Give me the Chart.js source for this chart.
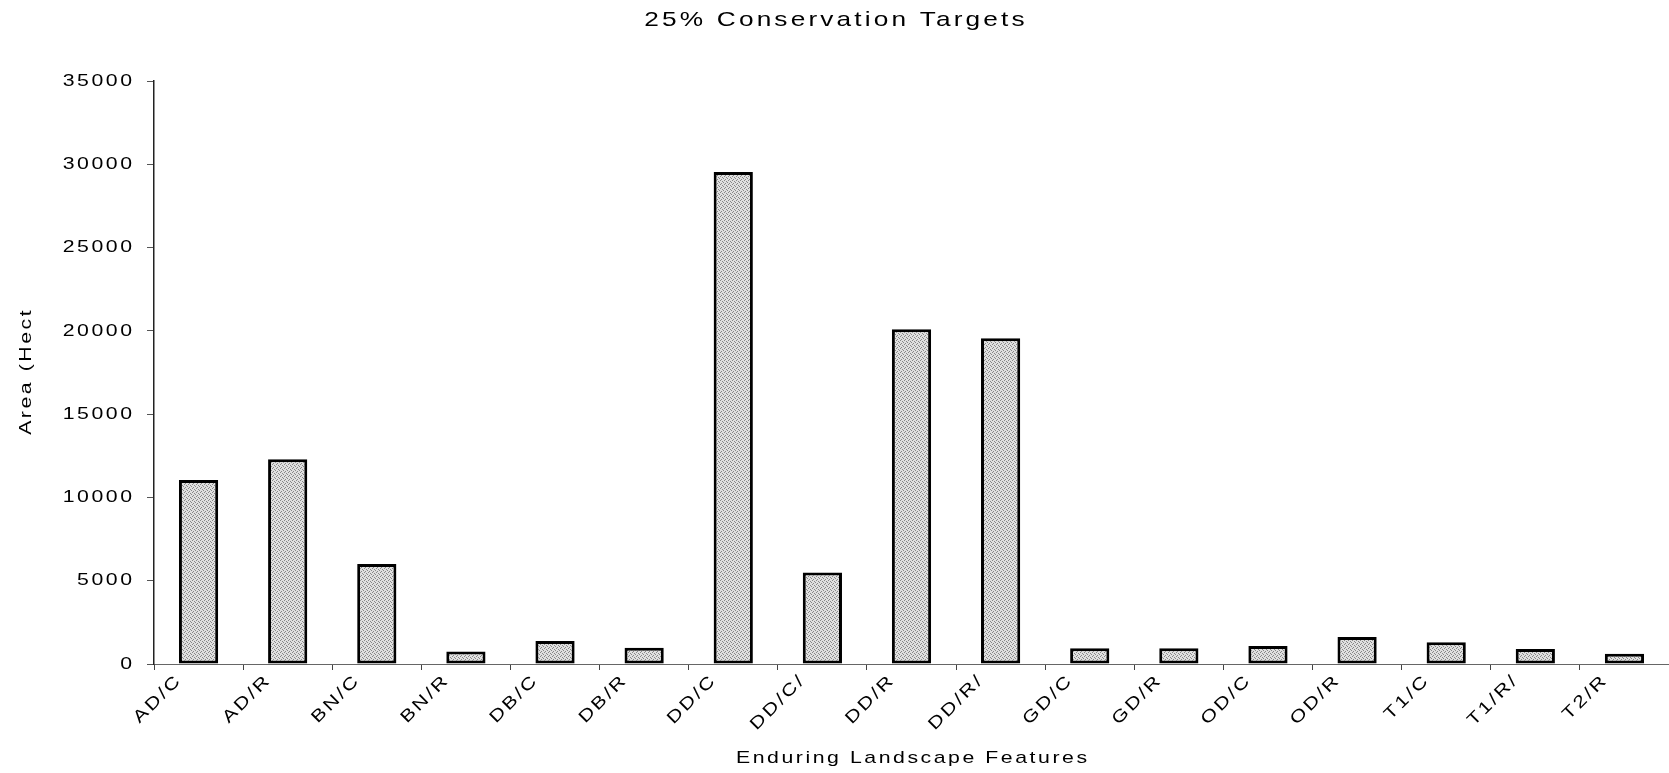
<!DOCTYPE html>
<html>
<head>
<meta charset="utf-8">
<script src="https://cdn.jsdelivr.net/npm/chart.js@4.4.1/dist/chart.umd.min.js"></script>
<style>
  html, body { margin: 0; padding: 0; background: #fff; }
  #wrap { width: 1669px; height: 773px; }
</style>
</head>
<body>
<div id="wrap"><canvas id="myChart" width="1669" height="773"></canvas></div>
<script>
// data
var features = ['AD/C', 'AD/R', 'BN/C', 'BN/R', 'DB/C', 'DB/R', 'DD/C', 'DD/C/', 'DD/R', 'DD/R/',
                'GD/C', 'GD/R', 'OD/C', 'OD/R', 'T1/C', 'T1/R/', 'T2/R'];
var areaHect = [11050, 12300, 6000, 750, 1380, 980, 29550, 5500, 20100, 19570,
                950, 950, 1080, 1620, 1300, 900, 620];
var yTicks = [0, 5000, 10000, 15000, 20000, 25000, 30000, 35000];

// stippled grey fill like the scanned original
var tile = document.createElement('canvas');
tile.width = 4; tile.height = 4;
var tc = tile.getContext('2d');
tc.fillStyle = '#e0e0e0';
tc.fillRect(0, 0, 4, 4);
tc.fillStyle = '#888';
[[0, 0], [2, 1], [1, 3], [3, 2]].forEach(function (p) { tc.fillRect(p[0], p[1], 1, 1); });
var stipple = tc.createPattern(tile, 'repeat');

// the original type is wide and letter-spaced: stretch it a bit
var SX = 1.25, SP = 0.12;
var wideText = {
  id: 'wideText',
  beforeInit: function (chart) {
    var ctx = chart.ctx;
    var fill = ctx.fillText, measure = ctx.measureText;
    function setSp() {
      var m = /(\d+(\.\d+)?)px/.exec(ctx.font);
      var size = m ? parseFloat(m[1]) : 12;
      var sp = size * SP;
      ctx.letterSpacing = sp.toFixed(2) + 'px';
      return sp;
    }
    ctx.fillText = function (text, x, y) {
      var sp = setSp();
      var shift = ctx.textAlign === 'right' || ctx.textAlign === 'end' ? sp
                : ctx.textAlign === 'center' ? sp / 2 : 0;
      ctx.save();
      ctx.translate(x, y);
      ctx.scale(SX, 1);
      fill.call(ctx, text, shift, 0);
      ctx.restore();
    };
    ctx.measureText = function (text) {
      setSp();
      var m = measure.call(ctx, text);
      return {
        width: m.width * SX,
        actualBoundingBoxAscent: m.actualBoundingBoxAscent,
        actualBoundingBoxDescent: m.actualBoundingBoxDescent,
        actualBoundingBoxLeft: m.actualBoundingBoxLeft * SX,
        actualBoundingBoxRight: m.actualBoundingBoxRight * SX
      };
    };
  }
};

Chart.defaults.font.family = "'Liberation Sans', Arial, sans-serif";
Chart.defaults.color = '#000';

var ctx = document.getElementById('myChart').getContext('2d');
var myChart = new Chart(ctx, {
  type: 'bar',
  data: {
    labels: features,
    datasets: [{
      data: areaHect,
      backgroundColor: stipple,
      borderColor: '#000',
      borderWidth: 3,
      borderSkipped: false,
      barPercentage: 0.44,
      categoryPercentage: 1
    }]
  },
  plugins: [wideText],
  options: {
    responsive: false,
    animation: false,
    layout: { padding: 0 },
    plugins: {
      legend: { display: false },
      tooltip: { enabled: false },
      title: {
        display: true,
        text: '25% Conservation Targets',
        font: { size: 21, weight: 'normal' },
        color: '#000',
        padding: { top: 8, bottom: 48 }
      }
    },
    scales: {
      x: {
        offset: true,
        grid: { offset: true, drawOnChartArea: false, drawTicks: true, tickLength: 6, color: '#444' },
        border: { color: '#666', width: 1 },
        ticks: {
          maxRotation: 45,
          minRotation: 45,
          autoSkip: false,
          labelOffset: -21,
          padding: 2,
          font: { size: 17 },
          color: '#000'
        },
        title: {
          display: true,
          text: 'Enduring Landscape Features',
          font: { size: 17 },
          color: '#000',
          padding: { top: 0, bottom: 4 }
        },
        afterFit: function (s) { s.height = 109; }
      },
      y: {
        min: 0,
        max: 35000,
        grid: { drawOnChartArea: false, drawTicks: true, tickLength: 7, color: '#555' },
        border: { color: '#222', width: 1.5 },
        afterBuildTicks: function (s) { s.ticks = yTicks.map(function (v) { return { value: v }; }); },
        ticks: {
          font: { size: 17 },
          color: '#000',
          padding: 15,
          callback: function (v) { return String(v); }
        },
        title: {
          display: true,
          text: 'Area (Hect',
          font: { size: 17 },
          color: '#000',
          padding: { top: 16, bottom: 0 }
        },
        afterFit: function (s) { s.width = 154; }
      }
    }
  }
});
</script>
</body>
</html>
